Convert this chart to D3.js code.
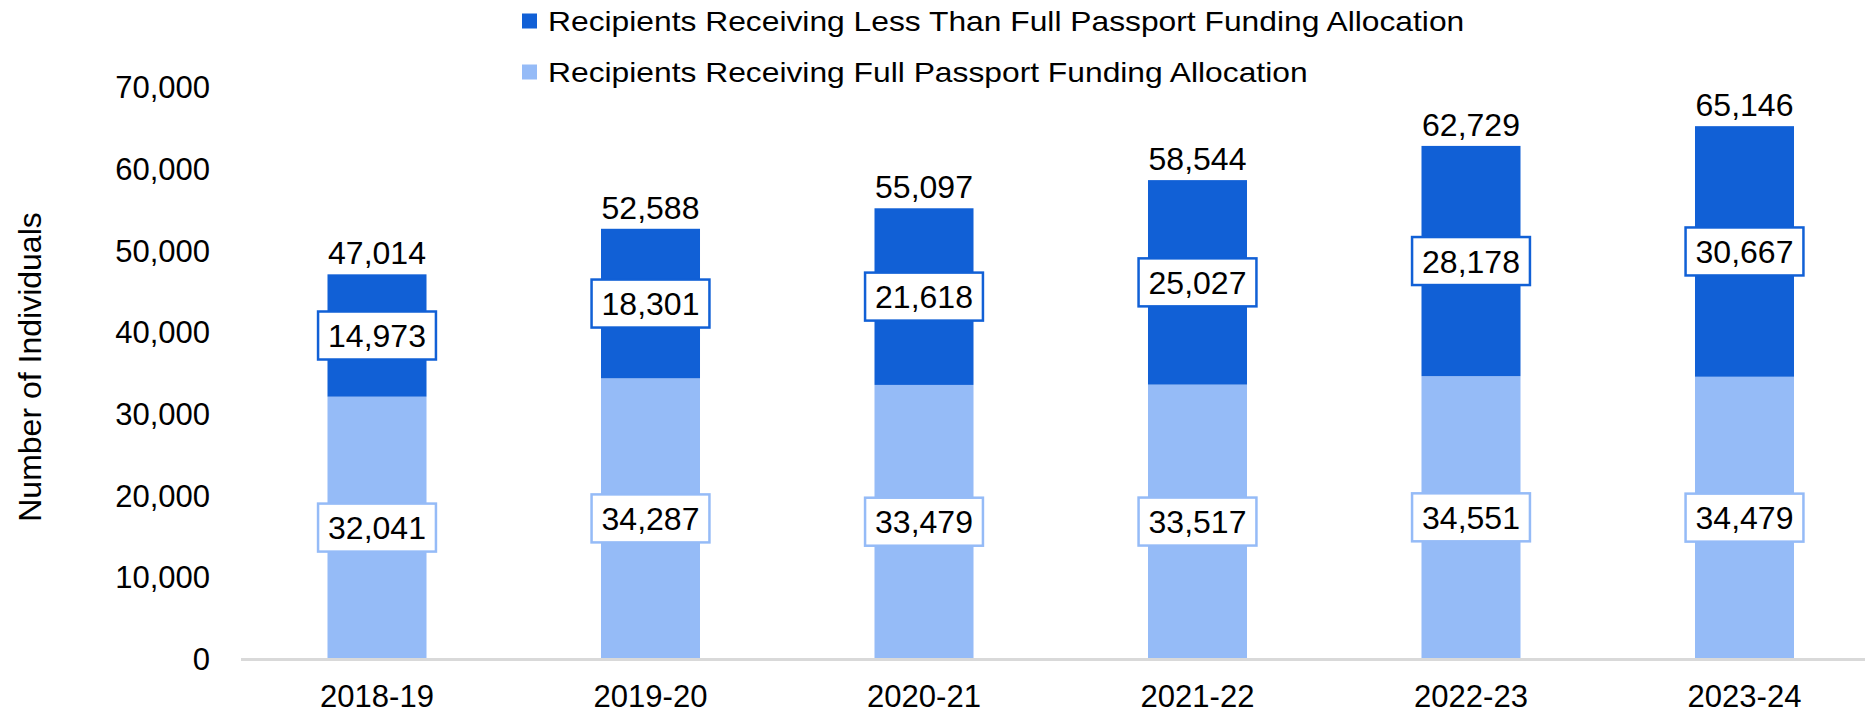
<!DOCTYPE html>
<html>
<head>
<meta charset="utf-8">
<script src="https://cdn.jsdelivr.net/npm/d3@7"></script>
<style>
  html, body { margin: 0; padding: 0; background: #fff; }
  svg { display: block; font-family: "Liberation Sans", Arial, sans-serif; }
</style>
</head>
<body>
<svg id="chart" width="1865" height="718"></svg>
<script>
const categories = ["2018-19", "2019-20", "2020-21", "2021-22", "2022-23", "2023-24"];
const fullAllocation = [32041, 34287, 33479, 33517, 34551, 34479];
const lessAllocation = [14973, 18301, 21618, 25027, 28178, 30667];
const totals = [47014, 52588, 55097, 58544, 62729, 65146];
const yTicks = [0, 10000, 20000, 30000, 40000, 50000, 60000, 70000];
const seriesNames = [
  "Recipients Receiving Full Passport Funding Allocation",
  "Recipients Receiving Less Than Full Passport Funding Allocation"
];
const colors = { full: "#95BBF7", less: "#1160D6" };

const svg = d3.select("#chart");
const W = 1865, H = 718;
const margin = { left: 240.25, right: -16.25, top: 86.5, bottom: 59.5 };

const x = d3.scaleBand()
  .domain(categories)
  .range([margin.left, W - margin.right])
  .paddingInner(0.638)
  .paddingOuter(0.319);

const y = d3.scaleLinear()
  .domain([0, 70000])
  .range([H - margin.bottom, margin.top]);

const rows = categories.map((c, i) => ({ cat: c, full: fullAllocation[i], less: lessAllocation[i], total: totals[i] }));
const stack = d3.stack().keys(["full", "less"]);
const stacked = stack(rows);

const fmt = d3.format(",");
const FS = 32;

// y tick labels
const yAxis = d3.axisLeft(y).tickValues(yTicks).tickFormat(fmt).tickSize(0).tickPadding(0);
const gy = svg.append("g").attr("transform", "translate(210,0)").call(yAxis);
gy.select(".domain").remove();
gy.selectAll("text").attr("font-size", 31).attr("fill", "#000")
  .attr("font-family", "'Liberation Sans', Arial, sans-serif").attr("dy", "0.36em");

// axis title
svg.append("text")
  .attr("transform", "translate(41,367) rotate(-90)")
  .attr("text-anchor", "middle")
  .attr("font-size", FS)
  .attr("fill", "#000")
  .text("Number of Individuals");

// bars
const layers = svg.append("g").selectAll("g")
  .data(stacked).join("g")
  .attr("fill", d => colors[d.key]);

layers.selectAll("rect")
  .data(d => d.map(v => ({ v, key: d.key })))
  .join("rect")
  .attr("x", d => x(d.v.data.cat))
  .attr("width", x.bandwidth())
  .attr("y", d => y(d.v[1]))
  .attr("height", d => y(d.v[0]) - y(d.v[1]));

// baseline axis line
const xAxis = d3.axisBottom(x).tickSize(0).tickPadding(0);
const gx = svg.append("g").attr("transform", `translate(0,${y(0) + 1})`).call(xAxis);
gx.select(".domain").attr("stroke", "#d9d9d9").attr("stroke-width", 3)
  .attr("d", `M${margin.left + 0.75},0H${W}`);
gx.selectAll("text").attr("font-size", 31).attr("fill", "#000")
  .attr("font-family", "'Liberation Sans', Arial, sans-serif")
  .attr("dy", "0").attr("y", 47);

// segment labels in boxes
const labelG = svg.append("g");
stacked.forEach(layer => {
  layer.forEach(v => {
    const cx = x(v.data.cat) + x.bandwidth() / 2;
    const cy = y((v[0] + v[1]) / 2);
    const g = labelG.append("g");
    const t = g.append("text")
      .attr("x", cx).attr("y", cy).attr("dy", "0.36em")
      .attr("text-anchor", "middle")
      .attr("font-size", FS).attr("fill", "#000")
      .text(fmt(v[1] - v[0]));
    const w = t.node().getComputedTextLength() + 20;
    g.insert("rect", "text")
      .attr("x", cx - w / 2).attr("y", cy - 24)
      .attr("width", w).attr("height", 48)
      .attr("fill", "#fff")
      .attr("stroke", colors[layer.key])
      .attr("stroke-width", 2.5);
  });
});

// totals
svg.append("g").selectAll("text")
  .data(rows).join("text")
  .attr("x", d => x(d.cat) + x.bandwidth() / 2)
  .attr("y", d => y(d.total) - 10)
  .attr("text-anchor", "middle")
  .attr("font-size", FS).attr("fill", "#000")
  .text(d => fmt(d.total));

// legend
const legendItems = [
  { name: seriesNames[1], color: colors.less },
  { name: seriesNames[0], color: colors.full }
];
const lg = svg.append("g").attr("transform", "translate(522,0)");
legendItems.forEach((it, i) => {
  const cy = 21 + i * 51;
  lg.append("rect").attr("x", 0).attr("y", cy - 7.5).attr("width", 15).attr("height", 15).attr("fill", it.color);
  const t = lg.append("text").attr("x", 26).attr("y", cy).attr("dy", "0.35em")
    .attr("font-size", 28).attr("fill", "#000").text(it.name);
  const L = t.node().getComputedTextLength();
  t.attr("textLength", L * 1.135).attr("lengthAdjust", "spacingAndGlyphs");
});
</script>
</body>
</html>
